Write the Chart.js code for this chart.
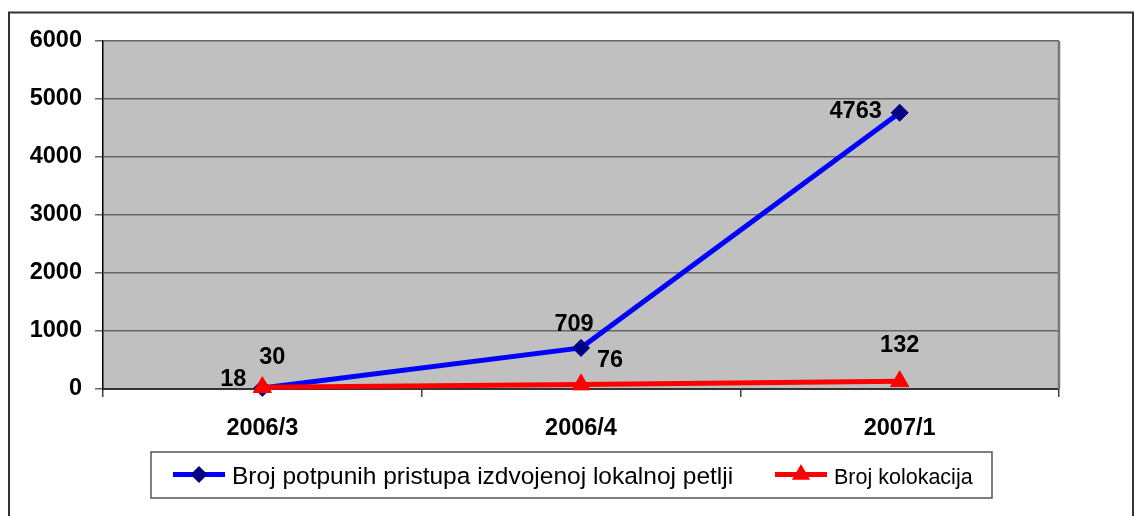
<!DOCTYPE html>
<html>
<head>
<meta charset="utf-8">
<title>Broj pristupa i kolokacija</title>
<script src="https://cdn.jsdelivr.net/npm/chart.js@4.4.1/dist/chart.umd.min.js"></script>
<style>
  html, body { margin: 0; padding: 0; background: #fff; }
  #wrap { position: relative; width: 1135px; height: 516px; }
</style>
</head>
<body>
<div id="wrap"><canvas id="myChart" width="1135" height="516"></canvas></div>
<script>
// data
var categories = ["2006/3", "2006/4", "2007/1"];
var seriesNames = ["Broj potpunih pristupa izdvojenoj lokalnoj petlji", "Broj kolokacija"];
var pristupValues = [18, 709, 4763];
var kolokacijeValues = [30, 76, 132];
var yTicks = [0, 1000, 2000, 3000, 4000, 5000, 6000];

// where the value labels sit, relative to their point (px)
var pristupLabelOffsets = [[-29, -8], [-7, -23], [-44, -1]];
var kolokacijeLabelOffsets = [[10, -30], [29, -24], [0, -36]];

var FONT = "'Liberation Sans', Arial, sans-serif";
Chart.defaults.font.family = FONT;

function drawMarker(ctx, style, x, y, r, color) {
  ctx.save();
  ctx.fillStyle = color;
  ctx.beginPath();
  if (style === "rectRot") {
    ctx.moveTo(x - r, y);
    ctx.lineTo(x, y - r);
    ctx.lineTo(x + r, y);
    ctx.lineTo(x, y + r);
  } else {
    ctx.moveTo(x, y - r);
    ctx.lineTo(x + r * 0.866, y + r * 0.5);
    ctx.lineTo(x - r * 0.866, y + r * 0.5);
  }
  ctx.closePath();
  ctx.fill();
  ctx.restore();
}

// grey plot background, frame, value labels and the boxed legend
var excelLook = {
  id: "excelLook",
  beforeDraw: function (chart) {
    var ctx = chart.ctx;
    var a = chart.chartArea;
    ctx.save();
    ctx.fillStyle = "#c0c0c0";
    ctx.fillRect(a.left, a.top, a.right - a.left, a.bottom - a.top);
    ctx.restore();
  },
  afterDatasetsDraw: function (chart) {
    var ctx = chart.ctx;
    ctx.save();
    ctx.font = "bold 23.5px " + FONT;
    ctx.fillStyle = "#000";
    ctx.textAlign = "center";
    ctx.textBaseline = "middle";
    chart.data.datasets.forEach(function (ds, i) {
      var meta = chart.getDatasetMeta(i);
      meta.data.forEach(function (pt, j) {
        var off = ds.labelOffsets[j];
        ctx.fillText(String(ds.data[j]), pt.x + off[0], pt.y + off[1]);
      });
    });
    ctx.restore();
  },
  afterDraw: function (chart) {
    var ctx = chart.ctx;
    var a = chart.chartArea;
    ctx.save();

    // right edge of plot area
    ctx.strokeStyle = "#777";
    ctx.lineWidth = 2.5;
    ctx.beginPath();
    ctx.moveTo(a.right, a.top);
    ctx.lineTo(a.right, a.bottom);
    ctx.stroke();

    // outer frame
    ctx.strokeStyle = "#333";
    ctx.lineWidth = 2;
    ctx.strokeRect(9, 12.5, 1124, 530);

    // legend box
    ctx.strokeStyle = "#555";
    ctx.lineWidth = 1.5;
    ctx.strokeRect(151, 452, 841, 46);

    var swatchX = [173, 775];
    var fontSizes = [24.5, 21.5];
    chart.data.datasets.forEach(function (ds, i) {
      var x = swatchX[i];
      var y = 474.5;
      ctx.strokeStyle = ds.borderColor;
      ctx.lineWidth = 5;
      ctx.beginPath();
      ctx.moveTo(x, y);
      ctx.lineTo(x + 52, y);
      ctx.stroke();
      drawMarker(ctx, ds.pointStyle, x + 26, y, ds.pointRadius, ds.pointBackgroundColor);
      ctx.fillStyle = "#000";
      ctx.font = fontSizes[i] + "px " + FONT;
      ctx.textAlign = "left";
      ctx.textBaseline = "alphabetic";
      ctx.fillText(ds.label, x + 59, 483.5);
    });
    ctx.restore();
  },
};

var ctx = document.getElementById("myChart").getContext("2d");
var myChart = new Chart(ctx, {
  type: "line",
  data: {
    labels: categories,
    datasets: [
      {
        label: seriesNames[0],
        data: pristupValues,
        labelOffsets: pristupLabelOffsets,
        borderColor: "#0000ff",
        borderWidth: 5,
        pointStyle: "rectRot",
        pointRadius: 8.5,
        pointBackgroundColor: "#000080",
        pointBorderColor: "#000080",
        pointBorderWidth: 1,
        tension: 0,
        clip: false,
        order: 1,
      },
      {
        label: seriesNames[1],
        data: kolokacijeValues,
        labelOffsets: kolokacijeLabelOffsets,
        borderColor: "#ff0000",
        borderWidth: 5,
        pointStyle: "triangle",
        pointRadius: 10.5,
        pointBackgroundColor: "#ff0000",
        pointBorderColor: "#ff0000",
        pointBorderWidth: 1,
        tension: 0,
        clip: false,
        order: 0,
      },
    ],
  },
  options: {
    responsive: false,
    animation: false,
    devicePixelRatio: 1,
    layout: { padding: { top: 41, right: 76, bottom: 0, left: 0 } },
    plugins: {
      legend: { display: false },
      tooltip: { enabled: false },
      title: { display: false },
    },
    scales: {
      x: {
        offset: true,
        grid: {
          offset: true,
          drawOnChartArea: false,
          drawTicks: true,
          tickLength: 8,
          color: "#444",
          lineWidth: 1.5,
        },
        border: { display: true, color: "#333", width: 2 },
        ticks: {
          color: "#000",
          font: { size: 23.5, weight: "bold" },
          padding: 17,
          maxRotation: 0,
        },
        afterFit: function (scale) {
          scale.height = 127;
        },
      },
      y: {
        min: yTicks[0],
        max: yTicks[yTicks.length - 1],
        afterBuildTicks: function (scale) {
          scale.ticks = yTicks.map(function (v) {
            return { value: v };
          });
        },
        grid: {
          color: "#666",
          lineWidth: 1.5,
          tickLength: 8,
        },
        border: { display: true, color: "#000", width: 1.5 },
        ticks: {
          color: "#000",
          font: { size: 23.5, weight: "bold" },
          padding: 13,
          callback: function (value) {
            return String(value);
          },
        },
        afterFit: function (scale) {
          scale.width = 103;
        },
      },
    },
  },
  plugins: [excelLook],
});
</script>
</body>
</html>
